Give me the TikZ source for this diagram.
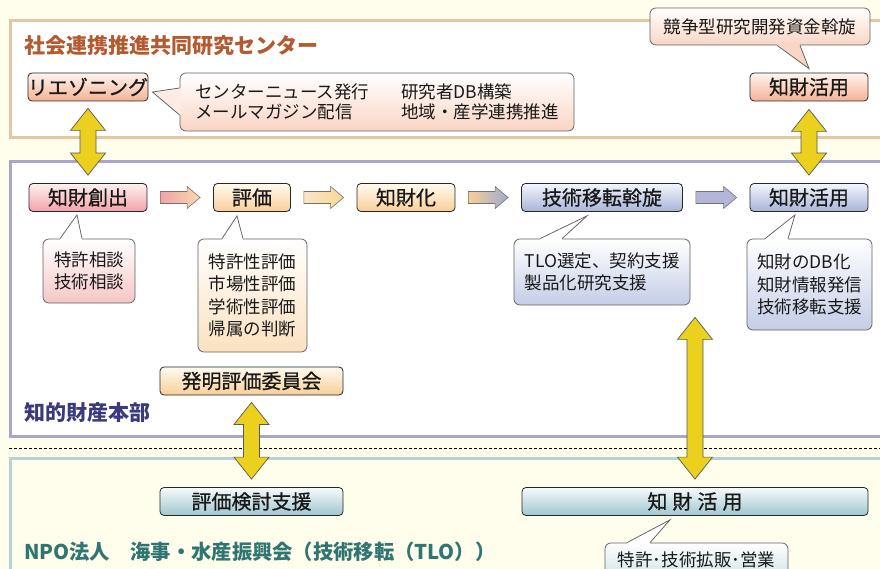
\documentclass[tikz,border=0pt]{standalone}
\usepackage{fontspec}
\setmainfont{Noto Sans CJK JP}
\newfontfamily\labfont{Noto Sans CJK JP}[FakeBold=0.8]
\usetikzlibrary{calc}
\definecolor{bg}{HTML}{FFFDEC}
\definecolor{frameT}{HTML}{E3C6A2}
\definecolor{frameM}{HTML}{A9A5CD}
\definecolor{frameB}{HTML}{B6D2D6}
\definecolor{ttlT}{HTML}{B45A30}
\definecolor{ttlM}{HTML}{3B3A7E}
\definecolor{ttlB}{HTML}{2F7572}
\definecolor{salm}{HTML}{F5B293}
\definecolor{salmTop}{HTML}{FFF4EE}
\definecolor{salmL}{HTML}{F9D5C5}
\definecolor{pinkB}{HTML}{F2A2A8}
\definecolor{pinkTop}{HTML}{FFF0F0}
\definecolor{pinkL}{HTML}{F6C6C6}
\definecolor{peach}{HTML}{F8CF98}
\definecolor{peachTop}{HTML}{FFFBF0}
\definecolor{peachL}{HTML}{FAE1C0}
\definecolor{blu}{HTML}{A7B4D9}
\definecolor{bluTop}{HTML}{F4F6FC}
\definecolor{bluL}{HTML}{C3CDE6}
\definecolor{tealB}{HTML}{A0C6CE}
\definecolor{tealTop}{HTML}{F6FBFC}
\definecolor{tealL}{HTML}{D0E4E8}
\definecolor{yel}{HTML}{EBD01E}
\newcommand\harrow[4]{%
 \draw[harr, left color=#3, right color=#4] let \p1=(#1.east), \p2=(#2.west) in
 (\x1+13pt,\y1+6pt) -- (\x2-26pt,\y1+6pt) -- (\x2-26pt,\y1+11pt) -- (\x2-13pt,\y1)
 -- (\x2-26pt,\y1-11pt) -- (\x2-26pt,\y1-6pt) -- (\x1+13pt,\y1-6pt) -- cycle;}
\newcommand\dbarrow[2]{%
 \draw[yarr] let \p1=(#1), \p2=(#2) in
 (\x2,\y1) -- (\x2+17.5pt,\y1-22pt) -- (\x2+8pt,\y1-22pt) -- (\x2+8pt,\y2+22pt)
 -- (\x2+17.5pt,\y2+22pt) -- (\x2,\y2) -- (\x2-17.5pt,\y2+22pt) -- (\x2-8pt,\y2+22pt)
 -- (\x2-8pt,\y1-22pt) -- (\x2-17.5pt,\y1-22pt) -- cycle;}
\newcommand\ptr[5]{%
 \fill[#4] ($(#2)+#5$) -- (#2) -- (#1) -- (#3) -- ($(#3)+#5$) -- cycle;
 \draw[ptrline] (#2) -- (#1) -- (#3);}
\begin{document}
\begin{tikzpicture}[x=1pt,y=-1pt,
 box/.style={draw=black!85, line width=0.8pt, rounded corners=4pt, inner sep=0pt,
   minimum height=28pt, text=black!90, font={\labfont\fontsize{20}{24}\selectfont}},
 boxS/.style={box, top color=salmTop, bottom color=salm},
 boxP/.style={box, top color=pinkTop, bottom color=pinkB},
 boxO/.style={box, top color=peachTop, bottom color=peach},
 boxB/.style={box, top color=bluTop, bottom color=blu},
 boxT/.style={box, top color=tealTop, bottom color=tealB},
 co/.style={draw=black!62, line width=0.75pt, rounded corners=6pt, inner sep=0pt,
   align=left, text=black!90, font={\fontsize{17.5}{22.6}\selectfont}},
 ptrline/.style={draw=black!62, line width=0.75pt, line join=miter},
 harr/.style={draw=black!55, line width=0.6pt, line join=miter},
 yarr/.style={fill=yel, draw=black!65, line width=0.7pt, line join=miter},
 ttl/.style={anchor=west, inner sep=0pt, font={\bfseries\fontsize{21}{25}\selectfont}}]
\path[use as bounding box] (0,0) rectangle (880,569);
\clip (0,0) rectangle (880,569);
\fill[bg] (0,0) rectangle (880,569);
% frames
\draw[frameT, line width=3pt, fill=white] (10,20.5) rectangle (895,137.5);
\draw[frameM, line width=3pt, fill=white] (10,162) rectangle (895,436);
\draw[black, line width=0.7pt, dash pattern=on 3pt off 2pt] (9,448) -- (880,448);
\draw[frameB, line width=3pt] (10,458) rectangle (895,600);
% titles
\node[ttl, text=ttlT] (tT) at (24,46) {社会連携推進共同研究センター};
\node[ttl, text=ttlM] (tM) at (24,413) {知的財産本部};
\node[ttl, text=ttlB, font={\bfseries\fontsize{20.3}{24}\selectfont}] (tB) at (24,552) {NPO法人　海事・水産振興会（技術移転（TLO））};
% boxes
\node[boxS, minimum width=118pt] (lia) at (88,87) {リエゾニング};
\node[boxS, minimum width=118pt] (kaT) at (809,87) {知財活用};
\node[boxP, minimum width=118pt] (sou) at (88,197.5) {知財創出};
\node[boxO, minimum width=77pt] (hyo) at (252,197.5) {評価};
\node[boxO, minimum width=98pt] (chi) at (406,197.5) {知財化};
\node[boxB, minimum width=161pt] (gij) at (602,197.5) {技術移転斡旋};
\node[boxB, minimum width=118pt] (kaM) at (809,197.5) {知財活用};
\node[boxO, minimum width=183pt] (hat) at (251.5,381) {発明評価委員会};
\node[boxT, minimum width=183pt] (hkk) at (251.5,501.5) {評価検討支援};
\node[boxT, minimum width=346pt] (kaB) at (695,501.5) {知\hspace{5pt}財\hspace{5pt}活\hspace{5pt}用};
% callouts
\node[co, top color=white, bottom color=salmL, minimum width=394pt, minimum height=58pt,
  font={\fontsize{17.5}{20}\selectfont}] (cc1) at (377,102)
  {\makebox[206pt][l]{センターニュース発行}研究者DB構築\\\makebox[206pt][l]{メールマガジン配信}地域・産学連携推進};
\node[co, top color=white, bottom color=salmL, minimum width=220pt, minimum height=37pt] (cc2) at (760,26.5) {競争型研究開発資金斡旋};
\node[co, top color=white, bottom color=pinkL, minimum width=92pt, minimum height=64pt] (cc3) at (89,271) {特許相談\\技術相談};
\node[co, top color=white, bottom color=peachL, minimum width=109pt, minimum height=113pt] (cc4) at (252.5,295.5) {特許性評価\\市場性評価\\学術性評価\\帰属の判断};
\node[co, top color=white, bottom color=bluL, minimum width=176pt, minimum height=66pt] (cc5) at (602,272) {TLO選定、契約支援\\製品化研究支援};
\node[co, top color=white, bottom color=bluL, minimum width=125pt, minimum height=91pt] (cc6) at (809.5,284.5) {知財のDB化\\知財情報発信\\技術移転支援};
\node[co, top color=white, bottom color=tealL, minimum width=183pt, minimum height=34pt] (cc7) at (696.5,560) {特許･技術拡販･営業};
% callout pointers
\ptr{$(lia.east)+(4,5)$}{$(cc1.west)+(0,-14)$}{$(cc1.west)+(0,13)$}{salmL!45!white}{(1.5,0)}
\ptr{$(kaT.north)+(0,-4)$}{$(cc2.south)+(17,0)$}{$(cc2.south)+(40,0)$}{salmL}{(0,-1.5)}
\ptr{$(sou.south)+(-11,3)$}{$(cc3.north)+(-29,0)$}{$(cc3.north)+(-7,0)$}{white}{(0,1.5)}
\ptr{$(hyo.south)+(-15,4)$}{$(cc4.north)+(-30.5,0)$}{$(cc4.north)+(-9.5,0)$}{white}{(0,1.5)}
\ptr{$(gij.south)+(-15,4)$}{$(cc5.north)+(-62,0)$}{$(cc5.north)+(-40,0)$}{white}{(0,1.5)}
\ptr{$(kaM.south)+(-14,3)$}{$(cc6.north)+(-44.5,0)$}{$(cc6.north)+(-21.5,0)$}{white}{(0,1.5)}
\ptr{$(kaB.south)+(-25,4)$}{$(cc7.north)+(-69.5,0)$}{$(cc7.north)+(-46.5,0)$}{white}{(0,1.5)}
% flow arrows
\harrow{sou}{hyo}{pinkB}{peach!80!white}
\harrow{hyo}{chi}{peach!55!white}{peach!75!yel!80!white}
\harrow{chi}{gij}{peach}{blu!95!black}
\harrow{gij}{kaM}{blu!90!violet!80!white}{blu!90!violet!80!white}
% yellow double arrows
\dbarrow{[yshift=-7pt]lia.south}{[yshift=8pt]sou.north}
\dbarrow{[yshift=-8pt]kaT.south}{[yshift=8pt]kaM.north}
\dbarrow{[yshift=-7pt]hat.south}{[yshift=8pt]hkk.north}
\dbarrow{[yshift=-12pt]cc5.south}{[yshift=8pt]kaB.north}
\end{tikzpicture}
\end{document}
